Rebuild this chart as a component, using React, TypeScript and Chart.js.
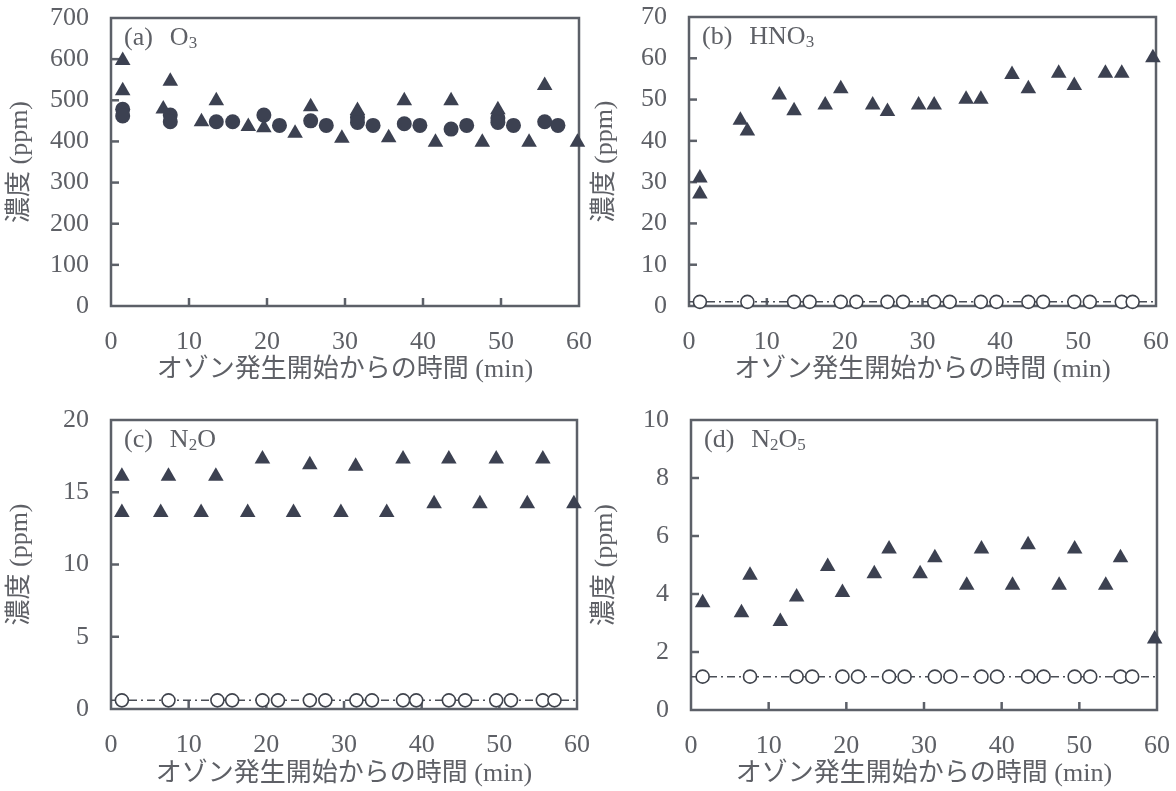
import React, { useEffect, useRef } from "react";
import { Chart, registerables } from "chart.js";

Chart.register(...registerables);

// ---------- data ----------
const xTickMin = 0;
const xTickMax = 60;
const xTickStep = 10;

// (a) O3
const o3TriX = [1.5, 1.5, 6.7, 7.6, 11.6, 13.5, 17.6, 19.6, 23.6, 25.6, 29.6, 31.6, 35.6, 37.6, 41.6, 43.6, 47.6, 49.6, 53.6, 55.6, 59.8];
const o3TriY = [597, 523, 479, 546, 448, 499, 436, 433, 420, 484, 408, 475, 409, 499, 398, 499, 398, 477, 398, 536, 398];
const o3CirX = [1.5, 1.5, 7.6, 7.6, 13.5, 15.6, 19.6, 21.6, 25.6, 27.6, 31.6, 31.6, 33.6, 37.6, 39.6, 43.6, 45.6, 49.6, 49.6, 51.6, 55.6, 57.3];
const o3CirY = [478, 462, 464, 448, 448, 448, 464, 439, 450, 439, 458, 446, 439, 443, 439, 430, 439, 457, 446, 439, 448, 439];

// (b) HNO3
const hno3TriX = [1.4, 1.4, 6.6, 7.5, 11.6, 13.5, 17.5, 19.5, 23.6, 25.5, 29.5, 31.5, 35.6, 37.5, 41.5, 43.6, 47.5, 49.5, 53.5, 55.6, 59.6];
const hno3TriY = [31.0, 27.1, 45.0, 42.4, 51.1, 47.3, 48.7, 52.6, 48.7, 47.1, 48.7, 48.7, 50.1, 50.1, 56.1, 52.6, 56.4, 53.4, 56.4, 56.4, 60.1];
const hno3CirX = [1.4, 7.5, 13.5, 15.5, 19.5, 21.5, 25.5, 27.5, 31.5, 33.5, 37.5, 39.5, 43.6, 45.5, 49.5, 51.5, 55.6, 57.0];
const hno3CirY = [1.0, 1.0, 1.0, 1.0, 1.0, 1.0, 1.0, 1.0, 1.0, 1.0, 1.0, 1.0, 1.0, 1.0, 1.0, 1.0, 1.0, 1.0];
const hno3LineX = [0, 60];
const hno3LineY = [1.0, 1.0];

// (c) N2O
const n2oTriX = [1.4, 7.4, 13.5, 19.5, 25.6, 31.5, 37.6, 43.5, 49.6, 55.6, 1.4, 6.4, 11.6, 17.6, 23.5, 29.6, 35.5, 41.6, 47.5, 53.6, 59.6];
const n2oTriY = [16.1, 16.1, 16.1, 17.3, 16.9, 16.8, 17.3, 17.3, 17.3, 17.3, 13.6, 13.6, 13.6, 13.6, 13.6, 13.6, 13.6, 14.2, 14.2, 14.2, 14.2];
const n2oCirX = [1.4, 7.4, 13.7, 15.6, 19.5, 21.5, 25.6, 27.6, 31.6, 33.6, 37.6, 39.3, 43.5, 45.6, 49.6, 51.5, 55.6, 57.1];
const n2oCirY = [0.6, 0.6, 0.6, 0.6, 0.6, 0.6, 0.6, 0.6, 0.6, 0.6, 0.6, 0.6, 0.6, 0.6, 0.6, 0.6, 0.6, 0.6];
const n2oLineX = [0, 60];
const n2oLineY = [0.6, 0.6];

// (d) N2O5
const n2o5TriX = [1.5, 6.5, 7.6, 11.5, 13.6, 17.6, 19.5, 23.6, 25.5, 29.5, 31.4, 35.5, 37.4, 41.4, 43.4, 47.4, 49.4, 53.4, 55.3, 59.7];
const n2o5TriY = [3.7, 3.35, 4.65, 3.05, 3.9, 4.95, 4.05, 4.7, 5.55, 4.7, 5.25, 4.3, 5.55, 4.3, 5.7, 4.3, 5.55, 4.3, 5.25, 2.45];
const n2o5CirX = [1.5, 7.6, 13.6, 15.6, 19.5, 21.5, 25.5, 27.5, 31.4, 33.4, 37.4, 39.4, 43.4, 45.4, 49.4, 51.4, 55.3, 56.8];
const n2o5CirY = [1.15, 1.15, 1.15, 1.15, 1.15, 1.15, 1.15, 1.15, 1.15, 1.15, 1.15, 1.15, 1.15, 1.15, 1.15, 1.15, 1.15, 1.15];
const n2o5LineX = [0, 60];
const n2o5LineY = [1.15, 1.15];

const xTitle = "オゾン発生開始からの時間 (min)";
const yTitle = "濃度 (ppm)";

// ---------- styles ----------
const MARK = "#3c4151";
const FRAME = "#5c6068";
const TEXT = "#5e6066";
const SERIF = '"Liberation Serif", "Noto Sans CJK JP", serif';

const pts = (xs: number[], ys: number[]) => xs.map((x, i) => ({ x, y: ys[i] }));

const triDs = (xs: number[], ys: number[]) => ({
  type: "scatter" as const,
  data: pts(xs, ys),
  pointStyle: "triangle",
  pointRadius: 9,
  backgroundColor: MARK,
  borderColor: MARK,
  borderWidth: 0,
  clip: false,
  order: 1,
});
const dotDs = (xs: number[], ys: number[]) => ({
  type: "scatter" as const,
  data: pts(xs, ys),
  pointStyle: "circle",
  pointRadius: 7.5,
  backgroundColor: MARK,
  borderColor: MARK,
  borderWidth: 0,
  clip: false,
  order: 2,
});
const openDs = (xs: number[], ys: number[]) => ({
  type: "scatter" as const,
  data: pts(xs, ys),
  pointStyle: "circle",
  pointRadius: 6.5,
  backgroundColor: "#ffffff",
  borderColor: "#3f434c",
  borderWidth: 1.6,
  clip: false,
  order: 1,
});
const lineDs = (xs: number[], ys: number[]) => ({
  type: "line" as const,
  data: pts(xs, ys),
  borderColor: "#4a4e56",
  borderWidth: 1.5,
  borderDash: [8, 4, 2, 4],
  pointRadius: 0,
  fill: false,
  clip: false,
  order: 5,
});

type Part = [string, boolean];

const decorPlugin = {
  id: "decor",
  beforeDatasetsDraw(chart: any) {
    const { ctx, chartArea } = chart;
    ctx.save();
    ctx.strokeStyle = FRAME;
    ctx.lineWidth = 2.5;
    ctx.strokeRect(chartArea.left, chartArea.top, chartArea.right - chartArea.left, chartArea.bottom - chartArea.top);
    const ys = chart.scales.y;
    ys.ticks.forEach((t: any) => {
      const p = ys.getPixelForValue(t.value);
      if (p > chartArea.top + 2 && p < chartArea.bottom - 2) {
        ctx.beginPath();
        ctx.moveTo(chartArea.left, p);
        ctx.lineTo(chartArea.left + 8, p);
        ctx.stroke();
      }
    });
    const xs = chart.scales.x;
    xs.ticks.forEach((t: any) => {
      const p = xs.getPixelForValue(t.value);
      if (p > chartArea.left + 2 && p < chartArea.right - 2) {
        ctx.beginPath();
        ctx.moveTo(p, chartArea.bottom);
        ctx.lineTo(p, chartArea.bottom - 8);
        ctx.stroke();
      }
    });
    ctx.restore();
  },
  afterDraw(chart: any, _args: any, opts: any) {
    const { ctx, chartArea } = chart;
    const parts: Part[] = opts.parts || [];
    ctx.save();
    ctx.fillStyle = TEXT;
    ctx.textBaseline = "alphabetic";
    let x = chartArea.left + 13;
    const y = chartArea.top + 27;
    parts.forEach(([text, sub], i) => {
      ctx.font = sub ? `17px ${SERIF}` : `26px ${SERIF}`;
      ctx.fillText(text, x, sub ? y + 3 : y);
      x += ctx.measureText(text).width;
      if (i === 0) x += 17;
    });
    ctx.restore();
  },
};

interface PanelCfg {
  left: number;
  top: number;
  width: number;
  height: number;
  yWidth: number;
  xHeight: number;
  padTop: number;
  padRight: number;
  yMax: number;
  yStep: number;
  yTitlePad: number;
  xTitlePad: number;
  parts: Part[];
  datasets: any[];
}

const panels: PanelCfg[] = [
  {
    left: 0, top: 0, width: 620, height: 395, yWidth: 111, xHeight: 89, padTop: 18, padRight: 41,
    yMax: 700, yStep: 100, yTitlePad: 5, xTitlePad: 9,
    parts: [["(a)", false], ["O", false], ["3", true]],
    datasets: [triDs(o3TriX, o3TriY), dotDs(o3CirX, o3CirY)],
  },
  {
    left: 588, top: 0, width: 588, height: 395, yWidth: 101, xHeight: 89, padTop: 17, padRight: 20,
    yMax: 70, yStep: 10, yTitlePad: 2, xTitlePad: 9,
    parts: [["(b)", false], ["HNO", false], ["3", true]],
    datasets: [triDs(hno3TriX, hno3TriY), openDs(hno3CirX, hno3CirY), lineDs(hno3LineX, hno3LineY)],
  },
  {
    left: 0, top: 395, width: 620, height: 396, yWidth: 111, xHeight: 82, padTop: 25, padRight: 43,
    yMax: 20, yStep: 5, yTitlePad: 5, xTitlePad: 1,
    parts: [["(c)", false], ["N", false], ["2", true], ["O", false]],
    datasets: [triDs(n2oTriX, n2oTriY), openDs(n2oCirX, n2oCirY), lineDs(n2oLineX, n2oLineY)],
  },
  {
    left: 588, top: 395, width: 588, height: 396, yWidth: 103, xHeight: 81, padTop: 25, padRight: 19,
    yMax: 10, yStep: 2, yTitlePad: 2, xTitlePad: 1,
    parts: [["(d)", false], ["N", false], ["2", true], ["O", false], ["5", true]],
    datasets: [triDs(n2o5TriX, n2o5TriY), openDs(n2o5CirX, n2o5CirY), lineDs(n2o5LineX, n2o5LineY)],
  },
];

function Panel({ cfg }: { cfg: PanelCfg }) {
  const ref = useRef<HTMLCanvasElement | null>(null);
  useEffect(() => {
    if (!ref.current) return;
    const chart = new Chart(ref.current, {
      type: "scatter",
      data: { datasets: cfg.datasets },
      plugins: [decorPlugin as any],
      options: {
        animation: false,
        responsive: false,
        devicePixelRatio: 1,
        layout: { padding: { top: cfg.padTop, right: cfg.padRight, left: 0, bottom: 0 } },
        plugins: {
          legend: { display: false },
          tooltip: { enabled: false },
          decor: { parts: cfg.parts },
        } as any,
        scales: {
          x: {
            type: "linear",
            min: xTickMin,
            max: xTickMax,
            grid: { display: false, drawTicks: false },
            border: { display: false },
            ticks: { stepSize: xTickStep, padding: 21, color: TEXT, font: { family: SERIF, size: 26 }, maxRotation: 0 },
            title: {
              display: true,
              text: xTitle,
              color: TEXT,
              font: { family: SERIF, size: 26, lineHeight: 1.2 },
              padding: { top: 0, bottom: cfg.xTitlePad },
            },
            afterFit: (s: any) => {
              s.height = cfg.xHeight;
              s.paddingLeft = 0;
              s.paddingRight = 0;
            },
          },
          y: {
            type: "linear",
            min: 0,
            max: cfg.yMax,
            grid: { display: false, drawTicks: false },
            border: { display: false },
            ticks: { stepSize: cfg.yStep, padding: 22, color: TEXT, font: { family: SERIF, size: 26 } },
            title: {
              display: true,
              text: yTitle,
              color: TEXT,
              font: { family: SERIF, size: 26, lineHeight: 1.2 },
              padding: { top: cfg.yTitlePad, bottom: 0 },
            },
            afterFit: (s: any) => {
              s.width = cfg.yWidth;
              s.paddingTop = 0;
              s.paddingBottom = 0;
            },
          },
        },
      } as any,
    });
    return () => chart.destroy();
  }, [cfg]);
  return (
    <canvas
      ref={ref}
      width={cfg.width}
      height={cfg.height}
      style={{ position: "absolute", left: cfg.left, top: cfg.top, width: cfg.width, height: cfg.height }}
    />
  );
}

export default function App() {
  return (
    <div style={{ position: "absolute", left: 0, top: 0, width: 1176, height: 791, background: "#ffffff", overflow: "hidden" }}>
      {panels.map((p, i) => (
        <Panel key={i} cfg={p} />
      ))}
    </div>
  );
}
